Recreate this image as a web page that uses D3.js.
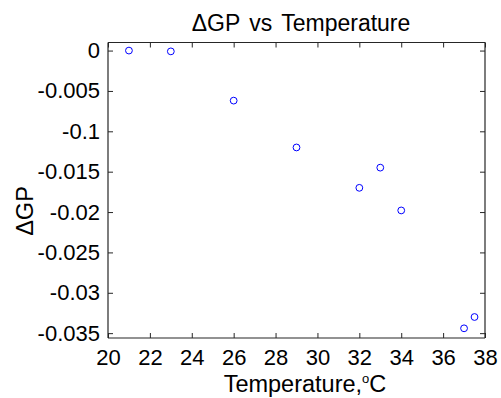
<!DOCTYPE html>
<html><head><meta charset="utf-8">
<script src="https://cdn.jsdelivr.net/npm/d3@7"></script>
<style>body{margin:0;background:#fff}svg{display:block}text{font-family:"Liberation Sans",Arial,sans-serif}</style>
</head><body>
<script>
const temperature = [21, 23, 26, 29, 32, 33, 34, 37, 37.5];
const deltaGP = [0, -0.0001, -0.0062, -0.0120, -0.0170, -0.0145, -0.0198, -0.0344, -0.0330];
const xTicks = [20, 22, 24, 26, 28, 30, 32, 34, 36, 38];
const yTicks = [0, -0.005, -0.01, -0.015, -0.02, -0.025, -0.03, -0.035];
const yTickLabels = ["0", "-0.005", "-0.1", "-0.015", "-0.02", "-0.025", "-0.03", "-0.035"];

const W = 501, H = 398;
const L = 108, R = 485, T = 42.5, B = 338;
const svg = d3.select("body").append("svg").attr("width", W).attr("height", H);
const x = d3.scaleLinear().domain([20, 38]).range([L, R]);
const y = d3.scaleLinear().domain([-0.0356, 0.0010]).range([B, T]);

const fs = 22;
const gB = svg.append("g").attr("transform", `translate(0,${B})`)
  .call(d3.axisBottom(x).tickValues(xTicks).tickSize(-5).tickPadding(11).tickFormat(d3.format("d")));
const gT = svg.append("g").attr("transform", `translate(0,${T})`)
  .call(d3.axisTop(x).tickValues(xTicks).tickSize(-5).tickFormat(""));
const gL = svg.append("g").attr("transform", `translate(${L},0)`)
  .call(d3.axisLeft(y).tickValues(yTicks).tickSize(-5).tickPadding(8).tickFormat((d,i)=>yTickLabels[i]));
const gR = svg.append("g").attr("transform", `translate(${R},0)`)
  .call(d3.axisRight(y).tickValues(yTicks).tickSize(-5).tickFormat(""));
[gB,gT,gL,gR].forEach(g=>{
  g.select(".domain").attr("stroke","#262626").attr("stroke-width",1.2);
  g.selectAll(".tick line").attr("stroke","#262626");
  g.selectAll("text").attr("font-size",fs).attr("fill","#000").attr("font-family","Liberation Sans, Arial, sans-serif");
});
gB.selectAll(".domain").attr("d",`M${L},0H${R}`);
gT.selectAll(".domain").attr("d",`M${L},0H${R}`);
gL.selectAll(".domain").attr("d",`M0,${T}V${B}`);
gR.selectAll(".domain").attr("d",`M0,${T}V${B}`);

svg.append("g").selectAll("circle").data(temperature).join("circle")
  .attr("cx",(d)=>x(d)).attr("cy",(d,i)=>y(deltaGP[i])).attr("r",3.4)
  .attr("fill","none").attr("stroke","#0000ff").attr("stroke-width",1);

svg.append("text").attr("x",301).attr("y",31).attr("text-anchor","middle")
  .attr("font-size",23).attr("word-spacing",3).text("ΔGP vs Temperature");
const xl = svg.append("text").attr("x",305).attr("y",392).attr("text-anchor","middle").attr("font-size",23.5);
xl.append("tspan").text("Temperature,");
xl.append("tspan").attr("font-size",13).attr("dy",-9).text("o");
xl.append("tspan").attr("dy",9).text("C");
svg.append("text").attr("transform","translate(33,211) rotate(-90)").attr("text-anchor","middle")
  .attr("font-size",23.5).text("ΔGP");
</script>
</body></html>
